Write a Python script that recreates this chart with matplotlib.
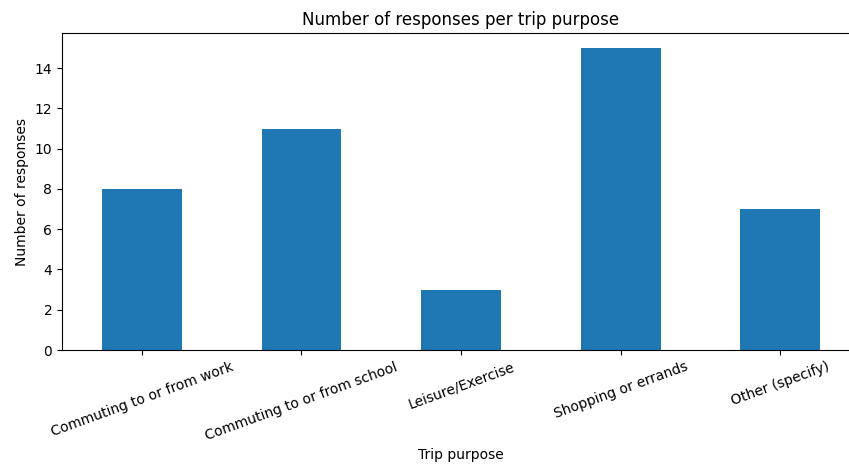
import matplotlib
matplotlib.use("Agg")
import matplotlib.pyplot as plt
import numpy as np

purposes = ["Commuting to or from work", "Commuting to or from school",
            "Leisure/Exercise", "Shopping or errands", "Other (specify)"]
responses = [8, 11, 3, 15, 7]

W, H = 849, 466
fig = plt.figure(figsize=(W / 100, H / 100), dpi=100)
ax = fig.add_axes([62 / W, (H - 350) / H, (860 - 62) / W, (350 - 33) / H])

x = np.arange(len(purposes))
ax.bar(x, responses, width=0.5, color="#1f77b4")
ax.set_xlim(-0.5, len(purposes) - 0.5)
ax.set_ylim(0, max(responses) * 1.05)
ax.set_xticks(x)
ax.set_xticklabels(purposes, rotation=20, ha="center")
ax.set_yticks(range(0, 15, 2))
ax.set_xlabel("Trip purpose")
ax.set_ylabel("Number of responses")
ax.set_title("Number of responses per trip purpose")

fig.savefig("out.png", dpi=100)
